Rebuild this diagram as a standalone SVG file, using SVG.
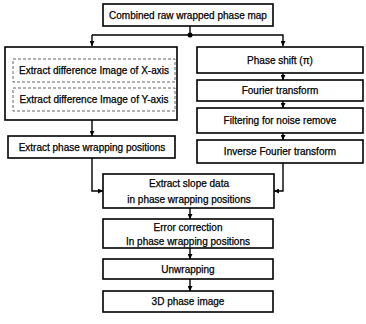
<svg xmlns="http://www.w3.org/2000/svg" width="366" height="324" viewBox="0 0 366 324">
<defs>
<marker id="ah" viewBox="0 0 10 10" refX="10" refY="5" markerWidth="5" markerHeight="5" markerUnits="userSpaceOnUse" orient="auto">
<path d="M0,0 L10,5 L0,10 Z" fill="#000"/>
</marker>
</defs>
<style>
.box{fill:#fff;stroke:#000;stroke-width:1.6}
.dash{fill:none;stroke:#555;stroke-width:0.9;stroke-dasharray:3,2}
.t{font-family:"Liberation Sans",Arial,sans-serif;font-size:10px;fill:#000;stroke:#000;stroke-width:0.25;text-anchor:middle;dominant-baseline:central}
.c{fill:none;stroke:#000;stroke-width:1.4}
</style>
<rect width="366" height="324" fill="#fff"/>
<g id="connectors">
<line class="c" x1="190" y1="26" x2="190" y2="35"/>
<polyline class="c" points="92,35 283,35 283,46" marker-end="url(#ah)"/>
<line class="c" x1="92" y1="35" x2="92" y2="46" marker-end="url(#ah)"/>
<circle cx="190" cy="35" r="2.5" fill="#000"/>
<line class="c" x1="92" y1="120" x2="92" y2="136" marker-end="url(#ah)"/>
<line class="c" x1="283" y1="73" x2="283" y2="80" marker-end="url(#ah)"/>
<line class="c" x1="283" y1="101" x2="283" y2="108" marker-end="url(#ah)"/>
<line class="c" x1="283" y1="133" x2="283" y2="140" marker-end="url(#ah)"/>
<polyline class="c" points="92,158 92,191 103,191" marker-end="url(#ah)"/>
<polyline class="c" points="283,163 283,191 274,191" marker-end="url(#ah)"/>
<line class="c" x1="190" y1="208" x2="190" y2="219" marker-end="url(#ah)"/>
<line class="c" x1="190" y1="248" x2="190" y2="259" marker-end="url(#ah)"/>
<line class="c" x1="190" y1="279" x2="190" y2="291" marker-end="url(#ah)"/>
</g>
<g id="n_combined">
<rect class="box" x="103" y="4" width="170" height="22"/>
<text class="t" x="188" y="15">Combined raw wrapped phase map</text>
</g>
<g id="n_diff">
<rect class="box" x="5" y="47" width="172" height="73"/>
<rect class="dash" x="13" y="59" width="162" height="23"/>
<text class="t" x="94" y="70.5">Extract difference Image of X-axis</text>
<rect class="dash" x="13" y="88" width="162" height="23"/>
<text class="t" x="94" y="99.5">Extract difference Image of Y-axis</text>
</g>
<g id="n_phaseshift">
<rect class="box" x="197" y="47" width="166" height="26"/>
<text class="t" x="280" y="60">Phase shift (π)</text>
</g>
<g id="n_fourier">
<rect class="box" x="197" y="80" width="166" height="21"/>
<text class="t" x="280" y="90.5">Fourier transform</text>
</g>
<g id="n_filter">
<rect class="box" x="197" y="108" width="166" height="25"/>
<text class="t" x="280" y="120.5">Filtering for noise remove</text>
</g>
<g id="n_inverse">
<rect class="box" x="197" y="140" width="166" height="23"/>
<text class="t" x="280" y="151.5">Inverse Fourier transform</text>
</g>
<g id="n_wrappos">
<rect class="box" x="8" y="136" width="167" height="22"/>
<text class="t" x="92" y="147">Extract phase wrapping positions</text>
</g>
<g id="n_slope">
<rect class="box" x="103" y="174" width="171" height="34"/>
<text class="t" x="189" y="183.5">Extract slope data</text>
<text class="t" x="189" y="199">in phase wrapping positions</text>
</g>
<g id="n_error">
<rect class="box" x="103" y="219" width="170" height="29"/>
<text class="t" x="188" y="227">Error correction</text>
<text class="t" x="188" y="241">In phase wrapping positions</text>
</g>
<g id="n_unwrap">
<rect class="box" x="103" y="259" width="170" height="20"/>
<text class="t" x="188" y="269">Unwrapping</text>
</g>
<g id="n_3d">
<rect class="box" x="103" y="291" width="170" height="21"/>
<text class="t" x="188" y="301.5">3D phase image</text>
</g>
</svg>
